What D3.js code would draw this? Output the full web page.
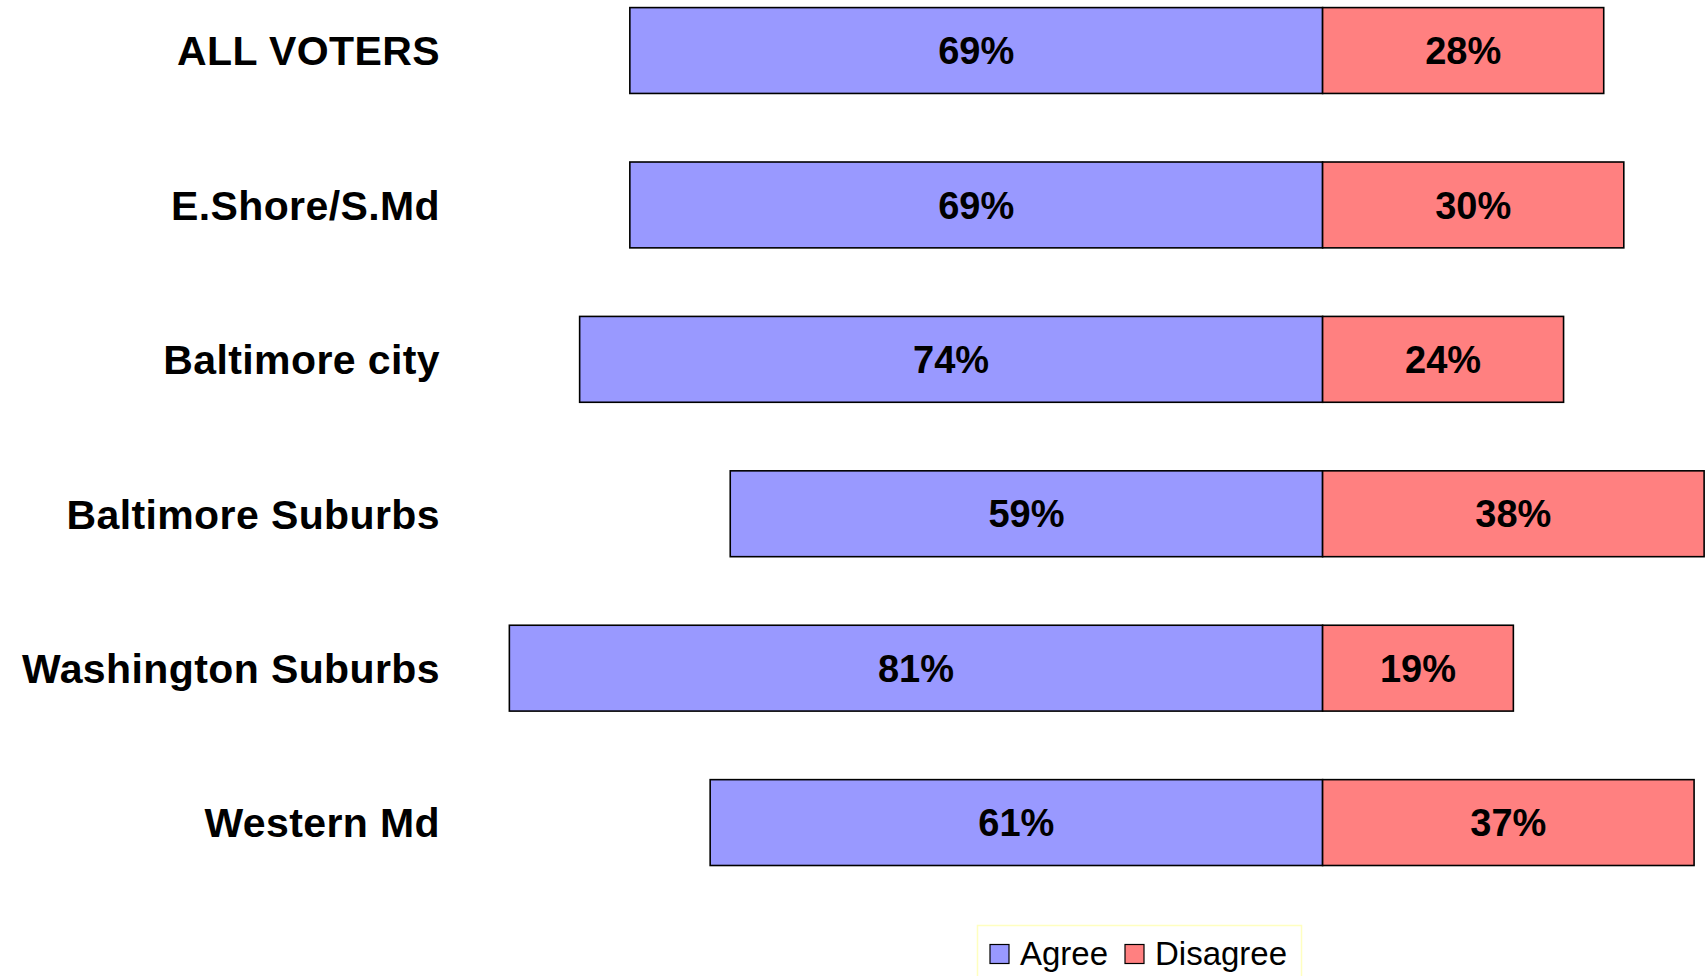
<!DOCTYPE html>
<html>
<head>
<meta charset="utf-8">
<script src="https://cdn.jsdelivr.net/npm/d3@7"></script>
<style>
  html, body { margin: 0; padding: 0; background: #fff; }
  svg { display: block; }
</style>
</head>
<body>
<svg id="chart" width="1705" height="976"></svg>
<script>
const categories = ["ALL VOTERS", "E.Shore/S.Md", "Baltimore city", "Baltimore Suburbs", "Washington Suburbs", "Western Md"];
const agree = [69, 69, 74, 59, 81, 61];
const disagree = [28, 30, 24, 38, 19, 37];
const seriesNames = ["Agree", "Disagree"];
const seriesColors = ["#9999FF", "#FF8080"];

const svg = d3.select("#chart");

const x = d3.scaleLinear().domain([-90, 40]).range([419, 1724.2]);
const y = d3.scaleBand().domain(categories).range([7.6, 865.5]).paddingInner(0.444).paddingOuter(0);

const rows = categories.map((c, i) => ({ cat: c, agree: agree[i], disagree: disagree[i] }));

const g = svg.append("g");

g.selectAll("rect.agree").data(rows).enter().append("rect")
  .attr("class", "agree")
  .attr("x", d => x(-d.agree))
  .attr("y", d => y(d.cat))
  .attr("width", d => x(0) - x(-d.agree))
  .attr("height", y.bandwidth())
  .attr("fill", seriesColors[0])
  .attr("stroke", "#000")
  .attr("stroke-width", 1.6);

g.selectAll("rect.disagree").data(rows).enter().append("rect")
  .attr("class", "disagree")
  .attr("x", x(0))
  .attr("y", d => y(d.cat))
  .attr("width", d => x(d.disagree) - x(0))
  .attr("height", y.bandwidth())
  .attr("fill", seriesColors[1])
  .attr("stroke", "#000")
  .attr("stroke-width", 1.6);

const lblFont = "'Liberation Sans', Arial, sans-serif";
g.selectAll("text.aval").data(rows).enter().append("text")
  .attr("x", d => (x(-d.agree) + x(0)) / 2)
  .attr("y", d => y(d.cat) + y.bandwidth() / 2)
  .attr("dy", "0.36em")
  .attr("text-anchor", "middle")
  .attr("font-family", lblFont)
  .attr("font-weight", "bold")
  .attr("font-size", 38)
  .text(d => d.agree + "%");

g.selectAll("text.dval").data(rows).enter().append("text")
  .attr("x", d => (x(d.disagree) + x(0)) / 2)
  .attr("y", d => y(d.cat) + y.bandwidth() / 2)
  .attr("dy", "0.36em")
  .attr("text-anchor", "middle")
  .attr("font-family", lblFont)
  .attr("font-weight", "bold")
  .attr("font-size", 38)
  .text(d => d.disagree + "%");

const yAxis = d3.axisLeft(y).tickSize(0).tickPadding(0);
const axisG = svg.append("g").attr("transform", "translate(440,0)").call(yAxis);
axisG.select(".domain").remove();
axisG.selectAll("text")
  .attr("font-family", lblFont)
  .attr("font-weight", "bold")
  .attr("font-size", 41)
  .attr("letter-spacing", "0.4px")
  .attr("fill", "#000")
  .attr("dy", "0.36em");

const leg = svg.append("g");
leg.append("rect")
  .attr("x", 977.5).attr("y", 925.5)
  .attr("width", 324).attr("height", 70)
  .attr("fill", "#fff")
  .attr("stroke", "#FFFFC0")
  .attr("stroke-width", 1.5);
const legX = [990, 1125];
seriesNames.forEach((name, i) => {
  leg.append("rect")
    .attr("x", legX[i]).attr("y", 944.5)
    .attr("width", 19).attr("height", 19)
    .attr("fill", seriesColors[i])
    .attr("stroke", "#000")
    .attr("stroke-width", 1.2);
  leg.append("text")
    .attr("x", legX[i] + 30).attr("y", 965)
    .attr("font-family", lblFont)
    .attr("font-size", 33)
    .attr("fill", "#000")
    .text(name);
});
</script>
</body>
</html>
